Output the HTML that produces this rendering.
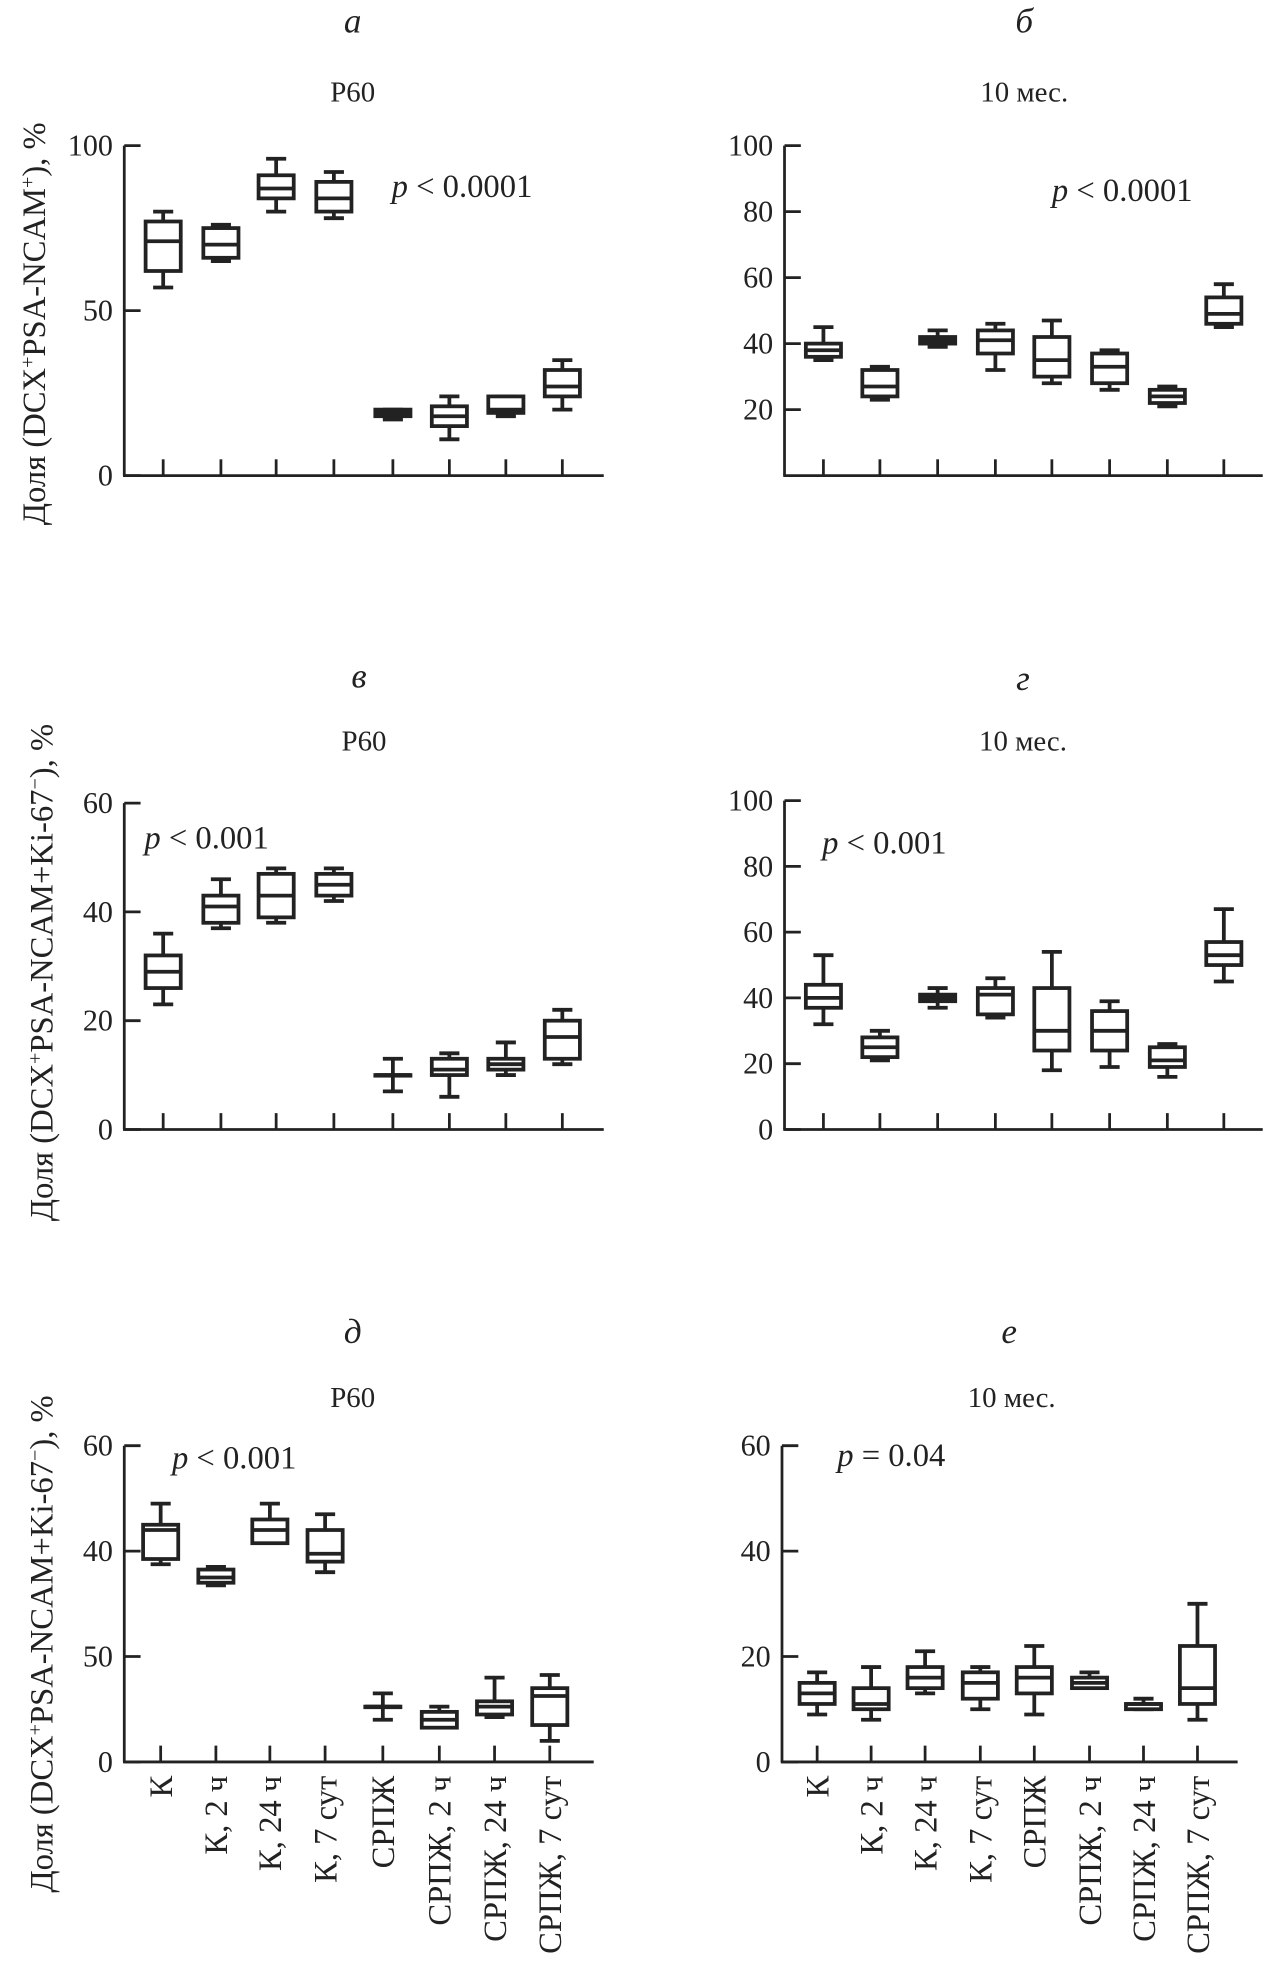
<!DOCTYPE html>
<html><head><meta charset="utf-8">
<style>
html,body{margin:0;padding:0;background:#fff;}
svg{display:block;}
text{font-family:"Liberation Serif",serif;fill:#222;}
</style></head>
<body>
<svg id="fig" width="1264" height="1969" viewBox="0 0 1007 1569" preserveAspectRatio="none" xmlns="http://www.w3.org/2000/svg"></svg>
<script>
// categories
const categories = ["К","К, 2 ч","К, 24 ч","К, 7 сут","СРПЖ","СРПЖ, 2 ч","СРПЖ, 24 ч","СРПЖ, 7 сут"];
// [whiskerLow, q1, median, q3, whiskerHigh]
const dataA = [[57,62,71,77,80],[65,66,70,75,76],[80,84,87,91,96],[78,80,84,89,92],[17,18,19,20,20],[11,15,18,21,24],[18,19,20,24,24],[20,24,27,32,35]];
const dataB = [[35,36,38,40,45],[23,24,27,32,33],[39,40,41,42,44],[32,37,41,44,46],[28,30,35,42,47],[26,28,33,37,38],[21,22,24,26,27],[45,46,49,54,58]];
const dataV = [[23,26,29,32,36],[37,38,41,43,46],[38,39,43,47,48],[42,43,45,47,48],[7,10,10,10,13],[6,10,11,13,14],[10,11,12,13,16],[12,13,17,20,22]];
const dataG = [[32,37,40,44,53],[21,22,25,28,30],[37,39,40,41,43],[34,35,41,43,46],[18,24,30,43,54],[19,24,30,36,39],[16,19,21,25,26],[45,50,53,57,67]];
const dataD = [[37.5,38.5,44,45,49],[33.5,34,35,36.5,37],[42,41.5,44,46,49],[36,38,39.5,44,47],[8,10.5,10.5,10.5,13],[6.5,6.5,8,9.5,10.5],[8.5,9,10.5,11.5,16],[4,7,12.5,14,16.5]];
const dataE = [[9,11,13,15,17],[8,10,11,14,18],[13,14,16,18,21],[10,12,15,17,18],[9,13,16,18,22],[14,14,15,16,17],[10,10,11,11,12],[8,11,14,22,30]];
// tick labels
const ticksA = [0,50,100];
const ticksB = [20,40,60,80,100];
const ticksV = [0,20,40,60];
const ticksG = [0,20,40,60,80,100];
const ticksDvals = [0,20,40,60];
const ticksDlabels = ["0","50","40","60"];
const ticksE = [0,20,40,60];

const NS="http://www.w3.org/2000/svg";
const svg=document.getElementById('fig');
function mk(tag,attrs,parent){const e=document.createElementNS(NS,tag);for(const k in attrs)e.setAttribute(k,attrs[k]);(parent||svg).appendChild(e);return e;}

const panels=[
 {id:'a',letter:'a',sub:'P60',lx:281,sx:281,ly:26,sy:81,ax:99,y0:379,ymax:100,yTop:116,xEnd:481,tx:[130,176,220,266,313,358,403,448],data:dataA,ticks:ticksA,tl:null,p:'< 0.0001',px:312,py:157,xl:false},
 {id:'b',letter:'б',sub:'10 мес.',lx:816,sx:816,ly:26,sy:81,ax:625,y0:379,ymax:100,yTop:116,xEnd:1006,tx:[656,701,747,793,838,884,930,975],data:dataB,ticks:ticksB,tl:null,p:'< 0.0001',px:838,py:160,xl:false},
 {id:'v',letter:'в',sub:'P60',lx:286,sx:290,ly:548,sy:598,ax:99,y0:900,ymax:60,yTop:640,xEnd:481,tx:[130,176,220,266,313,358,403,448],data:dataV,ticks:ticksV,tl:null,p:'< 0.001',px:115,py:676,xl:false},
 {id:'g',letter:'г',sub:'10 мес.',lx:815,sx:815,ly:550,sy:598,ax:625,y0:900,ymax:100,yTop:638,xEnd:1006,tx:[656,701,747,793,838,884,930,975],data:dataG,ticks:ticksG,tl:null,p:'< 0.001',px:655,py:680,xl:false},
 {id:'d',letter:'д',sub:'P60',lx:281,sx:281,ly:1070,sy:1121,ax:99,y0:1404,ymax:60,yTop:1152,xEnd:473,tx:[128,172,215,259,305,350,394,438],data:dataD,ticks:ticksDvals,tl:ticksDlabels,p:'< 0.001',px:137,py:1170,xl:true},
 {id:'e',letter:'е',sub:'10 мес.',lx:804,sx:806,ly:1070,sy:1121,ax:623,y0:1404,ymax:60,yTop:1152,xEnd:986,tx:[651,694,737,781,824,868,911,954],data:dataE,ticks:ticksE,tl:null,p:'= 0.04',px:667,py:1168,xl:true}
];

panels.forEach(P=>{
  const g=mk('g',{});
  
  
  const y=v=>P.y0-(v/P.ymax)*(P.y0-P.yTop);
  const t1=mk('text',{x:P.lx,y:P.ly,'text-anchor':'middle','font-size':28,'font-style':'italic'},g);t1.textContent=P.letter;
  
  const t2=mk('text',{x:P.sx,y:P.sy,'text-anchor':'middle','font-size':23},g);t2.textContent=P.sub;
  
  const ya=mk('line',{x1:P.ax,y1:P.yTop,x2:P.ax,y2:P.y0,stroke:'#222','stroke-width':2.2},g);
  
  const xa=mk('line',{x1:P.ax-1,y1:P.y0,x2:P.xEnd,y2:P.y0,stroke:'#222','stroke-width':2.2},g);
  
  P.ticks.forEach((v,i)=>{
    mk('line',{x1:P.ax,y1:y(v),x2:P.ax+13,y2:y(v),stroke:'#222','stroke-width':2.2},g);
    const tt=mk('text',{x:P.ax-9,y:y(v)+8,'text-anchor':'end','font-size':24},g);
    tt.textContent=P.tl?P.tl[i]:String(v);
    
  });
  P.tx.forEach((x,i)=>{
    mk('line',{x1:x,y1:P.y0,x2:x,y2:P.y0-13,stroke:'#222','stroke-width':2.2},g);
    if(P.xl){
      const lt=mk('text',{x:0,y:0,'text-anchor':'end','font-size':26,transform:`translate(${x+9},${P.y0+11}) rotate(-90)`},g);
      lt.textContent=categories[i];
      
    }
  });
  P.data.forEach((d,i)=>{
    const x=P.tx[i], w=14;
    const bg=mk('g',{stroke:'#222','stroke-width':3,fill:'none'},g);
    
    
    mk('line',{x1:x,y1:y(d[0]),x2:x,y2:y(d[1])},bg);
    mk('line',{x1:x,y1:y(d[3]),x2:x,y2:y(d[4])},bg);
    mk('line',{x1:x-8,y1:y(d[0]),x2:x+8,y2:y(d[0])},bg);
    mk('line',{x1:x-8,y1:y(d[4]),x2:x+8,y2:y(d[4])},bg);
    mk('rect',{x:x-w,y:y(d[3]),width:2*w,height:Math.max(0.5,y(d[1])-y(d[3])),fill:'#fff'},bg);
    mk('line',{x1:x-w,y1:y(d[2]),x2:x+w,y2:y(d[2])},bg);
  });
  const pt=mk('text',{x:P.px,y:P.py,'font-size':26},g);
  pt.innerHTML='<tspan font-style="italic">p</tspan> '+P.p;
  
});

const ylabels=[
 {cy:258,x:36,html:'Доля (DCX<tspan baseline-shift="super" font-size="16">+</tspan>PSA-NCAM<tspan baseline-shift="super" font-size="16">+</tspan>), %'},
 {cy:775,x:42,html:'Доля (DCX<tspan baseline-shift="super" font-size="16">+</tspan>PSA-NCAM+Ki-67<tspan baseline-shift="super" font-size="16">−</tspan>), %'},
 {cy:1310,x:42,html:'Доля (DCX<tspan baseline-shift="super" font-size="16">+</tspan>PSA-NCAM+Ki-67<tspan baseline-shift="super" font-size="16">−</tspan>), %'}
];
ylabels.forEach((L,i)=>{
  const t=mk('text',{x:0,y:0,'text-anchor':'middle','font-size':26,transform:`translate(${L.x},${L.cy}) rotate(-90)`});
  t.innerHTML=L.html;
  
  
});
</script>
</body></html>
